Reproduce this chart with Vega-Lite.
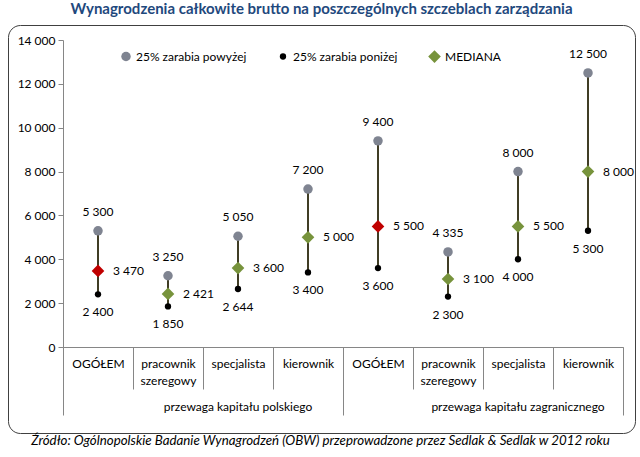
{
  "$schema": "https://vega.github.io/schema/vega-lite/v6.json",
  "width": 627,
  "height": 408,
  "autosize": {"type": "none"},
  "padding": {"left": 8, "top": 25, "right": 5, "bottom": 24},
  "title": {
    "text": "Wynagrodzenia całkowite brutto na poszczególnych szczeblach zarządzania",
    "font": "Lato", "fontSize": 15, "fontWeight": "bold", "color": "#1F497D",
    "anchor": "middle", "offset": 8
  },
  "config": {
    "locale": {"number": {"decimal": ",", "thousands": " ", "grouping": [3], "currency": ["", " zł"]}},
    "view": {"stroke": "#404040", "strokeWidth": 1, "cornerRadius": 12},
    "font": "Lato",
    "axis": {"grid": false, "labelFont": "Lato", "labelFontSize": 12, "labelColor": "#000000", "domainColor": "#868686", "tickColor": "#868686", "titleFont": "Lato"},
    "text": {"font": "Lato", "fontSize": 12, "color": "#000000"}
  },
  "data": {
    "values": [
      {"cat": "P OGÓŁEM", "hi": 5300, "lo": 2400, "med": 3470},
      {"cat": "P pracownik szeregowy", "hi": 3250, "lo": 1850, "med": 2421},
      {"cat": "P specjalista", "hi": 5050, "lo": 2644, "med": 3600},
      {"cat": "P kierownik", "hi": 7200, "lo": 3400, "med": 5000},
      {"cat": "Z OGÓŁEM", "hi": 9400, "lo": 3600, "med": 5500},
      {"cat": "Z pracownik szeregowy", "hi": 4335, "lo": 2300, "med": 3100},
      {"cat": "Z specjalista", "hi": 8000, "lo": 4000, "med": 5500},
      {"cat": "Z kierownik", "hi": 12500, "lo": 5300, "med": 8000}
    ]
  },
  "layer": [
    {
      "mark": {"type": "rule", "color": "#403D25", "strokeWidth": 2},
      "encoding": {
        "x": {"field": "cat", "type": "nominal", "sort": null,
          "scale": {"range": [55, 615], "paddingInner": 0, "paddingOuter": 0},
          "axis": {"orient": "bottom", "offset": -86, "title": null, "tickBand": "extent", "tickSize": 42,
            "labelPadding": -31, "labelBaseline": "top", "labelAngle": 0, "labelLineHeight": 17,
            "labelExpr": "split(substring(datum.label, 2), ' ')", "domainColor": "#868686"}},
        "y": {"field": "lo", "type": "quantitative",
          "scale": {"domain": [0, 14000], "range": [322, 15], "nice": false, "zero": true},
          "axis": {"orient": "left", "offset": -55, "title": null, "values": [0, 2000, 4000, 6000, 8000, 10000, 12000, 14000],
            "format": ",d", "tickSize": 5, "labelPadding": 3}},
        "y2": {"field": "hi"}
      }
    },
    {
      "mark": {"type": "text", "dy": -19, "baseline": "middle", "align": "center"},
      "encoding": {
        "x": {"field": "cat", "type": "nominal", "sort": null,
          "scale": {"range": [55, 615], "paddingInner": 0, "paddingOuter": 0},
          "axis": {"orient": "bottom", "offset": -86, "title": null, "domain": false, "bandPosition": 0,
            "values": ["P OGÓŁEM", "Z OGÓŁEM"], "tickSize": 68, "labelPadding": -14, "labelBaseline": "top",
            "labelAngle": 0, "labelOffset": 140,
            "labelExpr": "datum.value == 'P OGÓŁEM' ? 'przewaga kapitału polskiego' : 'przewaga kapitału zagranicznego'"}},
        "y": {"field": "hi", "type": "quantitative"},
        "text": {"field": "hi", "type": "quantitative", "format": ",d"}
      }
    },
    {
      "mark": {"type": "text", "dy": 18, "baseline": "middle", "align": "center"},
      "encoding": {
        "x": {"field": "cat", "type": "nominal", "sort": null,
          "scale": {"range": [55, 615], "paddingInner": 0, "paddingOuter": 0},
          "axis": {"orient": "bottom", "offset": -86, "domain": false, "bandPosition": 1,
            "values": ["Z kierownik"], "tickSize": 68, "labels": false,
            "title": "Źródło: Ogólnopolskie Badanie Wynagrodzeń (OBW) przeprowadzone przez Sedlak & Sedlak w 2012 roku",
            "titleFont": "Lato", "titleFontStyle": "italic", "titleFontWeight": "normal", "titleFontSize": 13.3,
            "titleColor": "#000000", "titleX": 312, "titleY": 93, "titleAlign": "center", "titleBaseline": "middle", "titleAnchor": null}},
        "y": {"field": "lo", "type": "quantitative"},
        "text": {"field": "lo", "type": "quantitative", "format": ",d"}
      }
    },
    {
      "mark": {"type": "text", "dx": 15, "baseline": "middle", "align": "left"},
      "encoding": {
        "x": {"field": "cat", "type": "nominal", "sort": null,
          "scale": {"range": [55, 615], "paddingInner": 0, "paddingOuter": 0}, "axis": null},
        "y": {"field": "med", "type": "quantitative"},
        "text": {"field": "med", "type": "quantitative", "format": ",d"}
      }
    },
    {
      "transform": [{"fold": ["hi", "lo", "med"], "as": ["key", "value"]}],
      "mark": {"type": "point", "filled": true, "opacity": 1, "strokeWidth": 0},
      "encoding": {
        "x": {"field": "cat", "type": "nominal", "sort": null,
          "scale": {"range": [55, 615], "paddingInner": 0, "paddingOuter": 0}, "axis": null},
        "y": {"field": "value", "type": "quantitative"},
        "color": {
          "condition": {"test": "datum.key == 'med' && indexof(datum.cat, 'OGÓŁEM') >= 0", "value": "#C00000"},
          "field": "key", "type": "nominal",
          "scale": {"domain": ["hi", "lo", "med"], "range": ["#7F8491", "#000000", "#77933C"]},
          "legend": {"orient": "none", "legendX": 112, "legendY": 25, "direction": "horizontal", "title": null,
            "labelExpr": "datum.value == 'hi' ? '25% zarabia powyżej' : datum.value == 'lo' ? '25% zarabia poniżej' : 'MEDIANA'",
            "labelFont": "Lato", "labelFontSize": 12, "labelColor": "#000000", "columnPadding": 30, "symbolSize": 55, "symbolStrokeWidth": 0}
        },
        "shape": {"field": "key", "type": "nominal",
          "scale": {"domain": ["hi", "lo", "med"], "range": ["circle", "circle", "diamond"]}},
        "size": {"field": "key", "type": "nominal",
          "scale": {"type": "ordinal", "domain": ["hi", "lo", "med"], "range": [90, 40, 160]}, "legend": null}
      }
    }
  ],
  "resolve": {"axis": {"x": "independent"}}
}
